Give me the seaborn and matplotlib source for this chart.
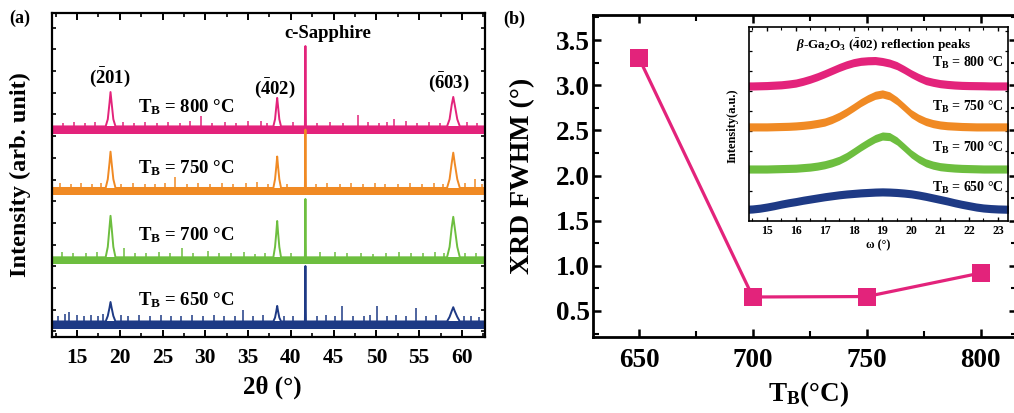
import numpy as np
import pandas as pd
import matplotlib
matplotlib.use('Agg')
import matplotlib.pyplot as plt
import seaborn as sns
from matplotlib.ticker import MultipleLocator, NullFormatter

sns.set_theme(style='ticks')
plt.rcParams['font.family'] = ['Liberation Serif', 'DejaVu Serif']
plt.rcParams['font.weight'] = 'bold'
plt.rcParams['axes.labelweight'] = 'bold'
plt.rcParams['mathtext.fontset'] = 'custom'
plt.rcParams['mathtext.rm'] = 'Liberation Serif:bold'
plt.rcParams['mathtext.it'] = 'Liberation Serif:italic:bold'
plt.rcParams['mathtext.bf'] = 'Liberation Serif:bold'
for k in ['text.color', 'axes.labelcolor', 'xtick.color', 'ytick.color', 'axes.edgecolor']:
    plt.rcParams[k] = 'black'
plt.rcParams['xtick.direction'] = 'in'
plt.rcParams['ytick.direction'] = 'in'

# ---------------- data ----------------
temps = ['800', '750', '700', '650']
colors = {'800': '#E3237B', '750': '#F08A24', '700': '#6DBE3F', '650': '#1E3A85'}

# panel (a): XRD 2theta scans (relative intensity above each baseline)
x_a = [12.0, 18.35, 18.6, 18.8, 18.92, 19.05, 19.25, 19.5,
       37.95, 38.15, 38.3, 38.4, 38.5, 38.65, 38.85,
       41.64, 41.7, 41.76,
       58.25, 58.55, 58.8, 58.98, 59.15, 59.45, 59.75, 63.0]
y_800 = [0.8, 0.8, 3, 8, 11.4, 8, 3, 0.8, 0.8, 3, 7, 9.6, 7, 3, 0.8,
         0.8, 25.6, 0.8, 0.8, 3, 7.5, 9.9, 7.5, 3, 0.8, 0.8]
y_750 = [0.8, 0.8, 3.5, 8.5, 12, 8.5, 3.5, 0.8, 0.8, 3.5, 7.5, 10.5, 7.5, 3.5, 0.8,
         0.8, 18.8, 0.8, 0.8, 3.5, 8.5, 11.7, 8.5, 3.5, 0.8, 0.8]
y_700 = [0.8, 0.8, 4, 10, 13.6, 10, 4, 0.8, 0.8, 4, 8.5, 12, 8.5, 4, 0.8,
         0.8, 18.8, 0.8, 0.8, 4, 10, 13.3, 10, 4, 0.8, 0.8]
y_650 = [0.8, 0.8, 2.5, 5, 6.8, 5, 2.5, 0.8, 0.8, 2, 4, 5.6, 4, 2, 0.8,
         0.8, 17.9, 0.8, 0.8, 2.2, 4, 5.2, 4, 2.2, 0.8, 0.8]
base_a = {'800': 64.2, '750': 45.2, '700': 23.8, '650': 4.0}

sp800_x = [13.4, 14.6, 15.9, 17.1, 20.4, 21.7, 23.0, 24.4, 25.6, 27.0, 28.2, 29.5, 30.8, 32.3, 33.6, 35.0, 36.5,
           37.2, 40.2, 43.0, 44.6, 46.1, 47.8, 49.0, 50.3, 51.2, 52.1, 53.4, 54.8, 56.2, 57.4, 60.6, 61.8]
sp800_h = [2.0, 2.2, 1.9, 2.3, 2.1, 1.9, 2.2, 2.0, 2.3, 1.9, 2.4, 4.0, 2.0, 2.2, 1.9, 2.5, 2.4,
           2.0, 2.1, 1.9, 2.2, 2.0, 4.3, 2.3, 2.0, 2.1, 3.2, 2.4, 1.9, 2.2, 2.0, 2.3, 1.9]
sp750_x = [13.0, 14.3, 15.5, 16.7, 17.8, 20.2, 21.5, 22.9, 24.1, 25.3, 26.4, 27.9, 29.1, 30.5, 31.9, 33.2, 34.7, 36.0,
           37.3, 39.6, 42.9, 44.2, 45.7, 47.0, 48.4, 49.8, 51.0, 52.5, 53.9, 55.3, 56.7, 57.8, 60.4, 61.5, 62.3]
sp750_h = [2.3, 2.0, 2.4, 2.1, 2.2, 2.0, 2.3, 1.9, 2.1, 2.4, 4.2, 2.0, 2.2, 1.9, 2.3, 2.0, 2.2, 2.5,
           2.0, 1.9, 2.1, 2.3, 2.0, 2.2, 1.9, 2.4, 2.0, 2.1, 2.3, 1.9, 2.2, 2.0, 2.2, 3.6, 2.0]
sp700_x = [13.3, 14.5, 16.0, 17.3, 20.5, 21.8, 23.1, 24.6, 25.9, 27.3, 28.6, 30.3, 31.6, 33.0, 34.5, 35.8,
           37.0, 40.0, 43.4, 45.1, 46.6, 48.2, 49.6, 51.1, 52.6, 54.0, 55.5, 56.9, 57.9, 60.3, 61.6]
sp700_h = [2.4, 2.1, 2.0, 2.3, 3.6, 2.2, 2.0, 2.4, 2.1, 3.8, 2.0, 2.6, 2.1, 2.0, 2.3, 1.9,
           2.2, 2.0, 2.3, 2.5, 2.0, 2.2, 1.9, 2.1, 2.3, 2.0, 2.2, 2.4, 2.0, 2.2, 2.1]
sp650_x = [12.8, 13.6, 14.1, 15.0, 15.8, 16.6, 17.4, 18.0, 20.1, 21.0, 22.3, 23.5, 24.8, 26.0, 27.2, 28.5, 29.7,
           31.0, 32.2, 33.5, 34.4, 35.6, 36.8, 39.2, 40.3, 43.0, 44.1, 45.2, 46.0, 47.3, 48.5, 49.3, 50.1,
           51.2, 52.3, 53.4, 54.6, 55.8, 57.0, 60.2, 61.0, 62.0]
sp650_h = [2.6, 3.0, 3.6, 2.8, 2.5, 2.9, 2.6, 3.2, 2.7, 2.4, 2.8, 2.5, 2.9, 2.6, 2.4, 2.8, 2.5,
           2.7, 2.4, 2.6, 4.2, 2.5, 2.8, 2.4, 2.6, 2.5, 2.8, 2.4, 5.6, 2.6, 2.5, 2.8, 5.6,
           2.4, 2.7, 2.5, 5.0, 2.6, 2.8, 2.4, 2.6, 2.3]

traces_a = {'800': y_800, '750': y_750, '700': y_700, '650': y_650}
spikes_a = {'800': (sp800_x, sp800_h), '750': (sp750_x, sp750_h),
            '700': (sp700_x, sp700_h), '650': (sp650_x, sp650_h)}

# panel (b): FWHM vs growth temperature
temp_b = [650, 700, 750, 800]
fwhm = [3.30, 0.655, 0.66, 0.92]

# inset: omega rocking curves (mean profile above baseline), omega 14.0 .. 24.0 step 0.25
omega = [14.0, 14.25, 14.5, 14.75, 15.0, 15.25, 15.5, 15.75, 16.0, 16.25, 16.5, 16.75, 17.0, 17.25,
         17.5, 17.75, 18.0, 18.25, 18.5, 18.75, 19.0, 19.25, 19.5, 19.75, 20.0, 20.25, 20.5, 20.75,
         21.0, 21.25, 21.5, 21.75, 22.0, 22.25, 22.5, 22.75, 23.0, 23.25, 23.5, 23.75, 24.0]
rc_800 = [0, 0, 0, 0.1, 0.2, 0.4, 0.6, 1.0, 1.5, 2.4, 3.5, 4.8, 6.3, 7.9, 9.5, 10.9, 12.0, 12.7, 13.0, 13.1,
          12.6, 11.8, 10.5, 8.5, 6.3, 4.4, 2.8, 1.9, 1.2, 0.8, 0.5, 0.3, 0.2, 0.15, 0.1, 0, 0, 0, 0, 0, 0]
rc_750 = [0, 0, 0, 0, 0, 0.1, 0.2, 0.3, 0.5, 0.8, 1.2, 1.8, 2.5, 3.8, 5.5, 7.6, 10.0, 12.5, 14.6, 16.3,
          17.0, 16.0, 13.5, 10.2, 6.8, 4.5, 2.8, 1.7, 1.0, 0.6, 0.4, 0.2, 0.1, 0, 0, 0, 0, 0, 0, 0, 0]
rc_700 = [0, 0, 0, 0, 0, 0.1, 0.2, 0.3, 0.4, 0.7, 1.0, 1.5, 2.2, 3.2, 4.5, 6.4, 8.8, 11.3, 13.6, 15.7,
          17.0, 16.7, 14.5, 11.2, 7.8, 5.2, 3.2, 2.0, 1.2, 0.8, 0.5, 0.3, 0.2, 0.1, 0, 0, 0, 0, 0, 0, 0]
rc_650 = [0.2, 0.3, 0.5, 0.9, 1.5, 2.2, 3.0, 3.7, 4.3, 5.0, 5.6, 6.2, 6.8, 7.3, 7.8, 8.2, 8.5, 8.8, 9.0, 9.2,
          9.3, 9.2, 9.0, 8.7, 8.3, 7.7, 7.0, 6.2, 5.4, 4.6, 3.7, 2.9, 2.2, 1.5, 1.0, 0.7, 0.5, 0.4, 0.3, 0.25, 0.2]
rc = {'800': rc_800, '750': rc_750, '700': rc_700, '650': rc_650}
base_i = {'800': 69.6, '750': 48.5, '700': 26.8, '650': 5.7}

# ---------------- figure ----------------
W, H = 1014, 413
fig = plt.figure(figsize=(W / 100, H / 100), dpi=100)


def rect(l, t, r, b):
    return [l / W, 1 - b / H, (r - l) / W, (b - t) / H]


axa = fig.add_axes(rect(52, 13, 485, 337))
axb = fig.add_axes(rect(593, 15, 1017, 337))
axi = fig.add_axes(rect(749, 27, 1008, 221))

# ---- panel (a)
rows = []
for T in temps:
    for x, y in zip(x_a, traces_a[T]):
        rows.append((x, y + base_a[T], T))
df_a = pd.DataFrame(rows, columns=['two_theta', 'intensity', 'T'])
for T in temps:
    b = base_a[T]
    axa.fill_between([12, 63], b - 1.4, b + 0.9, color=colors[T], lw=0)
    sx, sh = spikes_a[T]
    axa.vlines(sx, b + 0.5, b + np.array(sh), color=colors[T], lw=1.1)
sns.lineplot(data=df_a, x='two_theta', y='intensity', hue='T', palette=colors,
             estimator=None, sort=False, lw=1.4, legend=False, ax=axa)
axa.set_xlim(12.08, 62.69)
axa.set_ylim(0, 100)
axa.set_xticks(range(15, 61, 5))
axa.xaxis.set_minor_locator(MultipleLocator(2.5))
axa.set_yticks(np.arange(1.7, 100, 6.7))
axa.yaxis.set_major_formatter(NullFormatter())
axa.tick_params(axis='x', which='major', labelsize=15.5, pad=8, length=5, width=1.4, top=True)
axa.tick_params(axis='x', which='minor', length=3, width=1.2, top=True)
axa.tick_params(axis='y', length=3, width=1.2, right=True)
for s in axa.spines.values():
    s.set_linewidth(1.6)
axa.set_xlabel('')
axa.set_ylabel('')

lab_kw = dict(fontsize=13.5, fontweight='bold')
axa.text(18.8, 80.2, r'$(\bar{2}01)$', ha='center', va='center', **lab_kw)
axa.text(38.1, 76.9, r'$(\bar{4}02)$', ha='center', va='center', **lab_kw)
axa.text(58.5, 78.7, r'$(\bar{6}03)$', ha='center', va='center', **lab_kw)
axa.text(44.3, 93.8, 'c-Sapphire', ha='center', va='center', **lab_kw)
for T, yy in zip(temps, [71.0, 52.2, 31.5, 11.4]):
    axa.text(22.1, yy, r'T$_\mathrm{B}$ = ' + T + ' °C', ha='left', va='center', **lab_kw)

fig.text(20 / W, 1 - 175 / H, 'Intensity (arb. unit)', rotation=90, ha='center', va='center',
         fontsize=17.5, fontweight='bold')
fig.text(272 / W, 1 - 387 / H, '2θ (°)', ha='center', va='center', fontsize=18, fontweight='bold')
fig.text(20 / W, 1 - 18 / H, '(a)', ha='center', va='center', fontsize=13, fontweight='bold')
fig.text(514 / W, 1 - 19 / H, '(b)', ha='center', va='center', fontsize=13, fontweight='bold')

# ---- panel (b)
sns.lineplot(x=temp_b, y=fwhm, marker='s', markersize=12.5, markeredgewidth=0,
             color=colors['800'], lw=2.3, ax=axb)
axb.set_xlim(629.8, 816)
axb.set_ylim(0.212, 3.777)
axb.set_xticks([650, 700, 750, 800])
axb.xaxis.set_minor_locator(MultipleLocator(25))
axb.set_yticks([0.5, 1.0, 1.5, 2.0, 2.5, 3.0, 3.5])
axb.yaxis.set_minor_locator(MultipleLocator(0.25))
axb.tick_params(axis='both', which='major', labelsize=19.5, length=6, width=1.8, top=True, right=True)
axb.tick_params(axis='both', which='minor', length=4, width=1.5, top=True, right=True)
axb.tick_params(axis='x', which='major', pad=8)
axb.tick_params(axis='y', which='major', pad=2)
for s in axb.spines.values():
    s.set_linewidth(2.0)
fig.text(523 / W, 1 - 176 / H, 'XRD FWHM (°)', rotation=90, ha='center', va='center',
         fontsize=20, fontweight='bold')
fig.text(808 / W, 1 - 394 / H, r'T$_\mathrm{B}$(°C)', ha='center', va='center',
         fontsize=19.5, fontweight='bold')

# ---- inset
rows = []
for T in temps:
    for x, y in zip(omega, rc[T]):
        rows.append((x, y + base_i[T], T))
df_i = pd.DataFrame(rows, columns=['omega', 'intensity', 'T'])
for T in temps:
    m = np.array(rc[T]) + base_i[T]
    axi.fill_between(omega, m - 2.1, m + 2.1, color=colors[T], lw=0)
sns.lineplot(data=df_i, x='omega', y='intensity', hue='T', palette=colors,
             estimator=None, sort=False, lw=1.0, legend=False, ax=axi)
axi.set_xlim(14.38, 23.35)
axi.set_ylim(0, 100)
axi.set_xticks(range(15, 24))
axi.xaxis.set_minor_locator(MultipleLocator(0.5))
axi.set_yticks(np.arange(5, 100, 10.3))
axi.yaxis.set_major_formatter(NullFormatter())
axi.tick_params(axis='x', which='major', labelsize=8.5, pad=3, length=3, width=1.0, top=True)
axi.tick_params(axis='x', which='minor', length=2, width=0.8, top=True)
axi.tick_params(axis='y', length=2.5, width=0.9, right=True)
for s in axi.spines.values():
    s.set_linewidth(1.2)
axi.set_xlabel('')
axi.set_ylabel('')
fig.text(878 / W, 1 - 245 / H, 'ω (°)', ha='center', va='center', fontsize=8.5, fontweight='bold')
fig.text(733 / W, 1 - 126 / H, 'Intensity(a.u.)', rotation=90, ha='center', va='center',
         fontsize=9, fontweight='bold')
axi.text(0.52, 0.905, r'$\it{\beta}$-Ga$_2$O$_3$ ($\bar{4}$02) reflection peaks', transform=axi.transAxes,
         ha='center', va='center', fontsize=9.5, fontweight='bold')
for T, py in zip(temps, [63, 107, 148, 188]):
    axi.text(0.985, (221 - py) / 194, r'T$_\mathrm{B}$ = ' + T + ' °C', transform=axi.transAxes,
             ha='right', va='center', fontsize=10, fontweight='bold')

fig.savefig('out.png', dpi=100)
